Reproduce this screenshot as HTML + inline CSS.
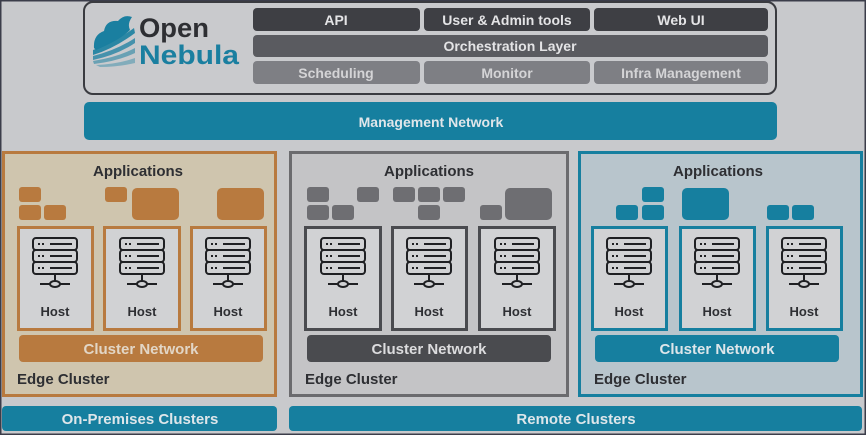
<!DOCTYPE html>
<html><head><meta charset="utf-8"><style>
html,body{margin:0;padding:0;background:#c8c9cc}
svg{display:block}
text{font-family:"Liberation Sans",sans-serif}
</style></head><body>
<svg width="866" height="435" viewBox="0 0 866 435" xmlns="http://www.w3.org/2000/svg">
<defs>
<g id="ic" fill="none" stroke="#1f2023" stroke-width="2">
<rect x="-22" y="0" width="44" height="12" rx="3"/>
<rect x="-22" y="12" width="44" height="12" rx="3"/>
<rect x="-22" y="24" width="44" height="12" rx="3"/>
<path d="M-17 6h2M-13 6h2M-5 6h22M-17 18h2M-13 18h2M-5 18h22M-17 30h2M-13 30h2M-5 30h22"/>
<path d="M0 36v7M-15 46h10M5 46h10"/>
<ellipse cx="0" cy="46" rx="5" ry="3"/>
</g>
</defs>
<rect x="0.5" y="0.5" width="865" height="434" fill="#c8c9cc" stroke="#3b3d4a" stroke-width="2"/>
<rect x="84" y="2" width="692" height="92" rx="9" fill="#c9cacd" stroke="#3a3b40" stroke-width="2"/>
<g fill="#1a7fa0">
<path d="M94 48 Q93 35 104 31 Q106 20 118 21 Q124 14 132 17 Q127 24 130 30 Q120 40 96 50 Z"/>
<path d="M93 50 Q115 42 134 28 L135 33 Q115 48 93 55 Z" opacity="0.9"/>
<path d="M93 56 Q117 50 135 38 L135 43 Q117 55 93 60 Z" opacity="0.75"/>
<path d="M93 61 Q118 57 135 48 L135 53 Q118 61 94 64 Z" opacity="0.55"/>
<path d="M96 65 Q118 64 135 58 L135 63 Q118 67 100 67 Z" opacity="0.4"/>
</g>
<text x="139" y="37" font-size="27" font-weight="bold" fill="#2e2f33" textLength="70" lengthAdjust="spacingAndGlyphs">Open</text>
<text x="139" y="64" font-size="27" font-weight="bold" fill="#1a7fa0" textLength="100" lengthAdjust="spacingAndGlyphs">Nebula</text>
<g font-size="14" font-weight="bold" text-anchor="middle">
<rect x="253" y="8" width="167" height="23" rx="4" fill="#3e3f44"/>
<rect x="424" y="8" width="166" height="23" rx="4" fill="#3e3f44"/>
<rect x="594" y="8" width="174" height="23" rx="4" fill="#3e3f44"/>
<text x="336" y="25" fill="#e4e4e6">API</text>
<text x="507" y="25" fill="#e4e4e6">User &amp; Admin tools</text>
<text x="681" y="25" fill="#e4e4e6">Web UI</text>
<rect x="253" y="35" width="515" height="22" rx="4" fill="#5a5b60"/>
<text x="510" y="51" fill="#e4e4e6">Orchestration Layer</text>
<rect x="253" y="61" width="167" height="23" rx="4" fill="#7e7f84"/>
<rect x="424" y="61" width="166" height="23" rx="4" fill="#7e7f84"/>
<rect x="594" y="61" width="174" height="23" rx="4" fill="#7e7f84"/>
<text x="336" y="78" fill="#d4d4d6">Scheduling</text>
<text x="507" y="78" fill="#d4d4d6">Monitor</text>
<text x="681" y="78" fill="#d4d4d6">Infra Management</text>
<rect x="84" y="102" width="693" height="38" rx="5" fill="#167f9f"/>
<text x="431" y="127" fill="#e0e6ea">Management Network</text>
</g>
<rect x="3.5" y="152.5" width="272" height="243" fill="#cfc5ae" stroke="#b87a3f" stroke-width="3"/>
<rect x="290.5" y="152.5" width="277" height="243" fill="#c4c4c6" stroke="#6b6b6e" stroke-width="3"/>
<rect x="579.5" y="152.5" width="282" height="243" fill="#b8c5cc" stroke="#167f9f" stroke-width="3"/>
<g font-size="15" font-weight="bold" fill="#2e2f33" text-anchor="middle">
<text x="138" y="176">Applications</text>
<text x="429" y="176">Applications</text>
<text x="718" y="176">Applications</text>
</g>
<g fill="#b87a3f">
<rect x="19" y="187" width="22" height="15" rx="3"/><rect x="19" y="205" width="22" height="15" rx="3"/><rect x="44" y="205" width="22" height="15" rx="3"/>
<rect x="105" y="187" width="22" height="15" rx="3"/><rect x="132" y="188" width="47" height="32" rx="5"/><rect x="217" y="188" width="47" height="32" rx="5"/>
</g>
<g fill="#6e6e72">
<rect x="307" y="187" width="22" height="15" rx="3"/><rect x="357" y="187" width="22" height="15" rx="3"/><rect x="307" y="205" width="22" height="15" rx="3"/><rect x="332" y="205" width="22" height="15" rx="3"/>
<rect x="393" y="187" width="22" height="15" rx="3"/><rect x="418" y="187" width="22" height="15" rx="3"/><rect x="443" y="187" width="22" height="15" rx="3"/><rect x="418" y="205" width="22" height="15" rx="3"/>
<rect x="480" y="205" width="22" height="15" rx="3"/><rect x="505" y="188" width="47" height="32" rx="5"/>
</g>
<g fill="#167f9f">
<rect x="642" y="187" width="22" height="15" rx="3"/><rect x="616" y="205" width="22" height="15" rx="3"/><rect x="642" y="205" width="22" height="15" rx="3"/>
<rect x="682" y="188" width="47" height="32" rx="5"/><rect x="767" y="205" width="22" height="15" rx="3"/><rect x="792" y="205" width="22" height="15" rx="3"/>
</g>
<g fill="#d1d2d4" stroke-width="3">
<rect x="18.5" y="227.5" width="74" height="102" stroke="#b87a3f"/>
<rect x="104.5" y="227.5" width="75" height="102" stroke="#b87a3f"/>
<rect x="191.5" y="227.5" width="74" height="102" stroke="#b87a3f"/>
<rect x="305.5" y="227.5" width="75" height="102" stroke="#4a4b4f"/>
<rect x="392.5" y="227.5" width="74" height="102" stroke="#4a4b4f"/>
<rect x="479.5" y="227.5" width="75" height="102" stroke="#4a4b4f"/>
<rect x="592.5" y="227.5" width="74" height="102" stroke="#167f9f"/>
<rect x="680.5" y="227.5" width="74" height="102" stroke="#167f9f"/>
<rect x="767.5" y="227.5" width="74" height="102" stroke="#167f9f"/>
</g>
<use href="#ic" x="55" y="238"/><use href="#ic" x="142" y="238"/><use href="#ic" x="228" y="238"/>
<use href="#ic" x="343" y="238"/><use href="#ic" x="429" y="238"/><use href="#ic" x="517" y="238"/>
<use href="#ic" x="629" y="238"/><use href="#ic" x="717" y="238"/><use href="#ic" x="804" y="238"/>
<g font-size="13" font-weight="bold" fill="#2e2f33" text-anchor="middle">
<text x="55" y="316">Host</text><text x="142" y="316">Host</text><text x="228" y="316">Host</text>
<text x="343" y="316">Host</text><text x="429" y="316">Host</text><text x="517" y="316">Host</text>
<text x="629" y="316">Host</text><text x="717" y="316">Host</text><text x="804" y="316">Host</text>
</g>
<rect x="19" y="335" width="244" height="27" rx="4" fill="#b87a3f"/>
<rect x="307" y="335" width="244" height="27" rx="4" fill="#4a4b4f"/>
<rect x="595" y="335" width="244" height="27" rx="4" fill="#167f9f"/>
<g font-size="15" font-weight="bold" text-anchor="middle">
<text x="141" y="354" fill="#e2d6c6">Cluster Network</text>
<text x="429" y="354" fill="#dcdcde">Cluster Network</text>
<text x="717" y="354" fill="#dde6ea">Cluster Network</text>
</g>
<g font-size="15" font-weight="bold" fill="#2e2f33">
<text x="17" y="384">Edge Cluster</text>
<text x="305" y="384">Edge Cluster</text>
<text x="594" y="384">Edge Cluster</text>
</g>
<rect x="2" y="406" width="275" height="25" rx="4" fill="#167f9f"/>
<rect x="289" y="406" width="573" height="25" rx="4" fill="#167f9f"/>
<g font-size="15" font-weight="bold" fill="#dde6ea" text-anchor="middle">
<text x="140" y="424">On-Premises Clusters</text>
<text x="576" y="424">Remote Clusters</text>
</g>
</svg>
</body></html>
